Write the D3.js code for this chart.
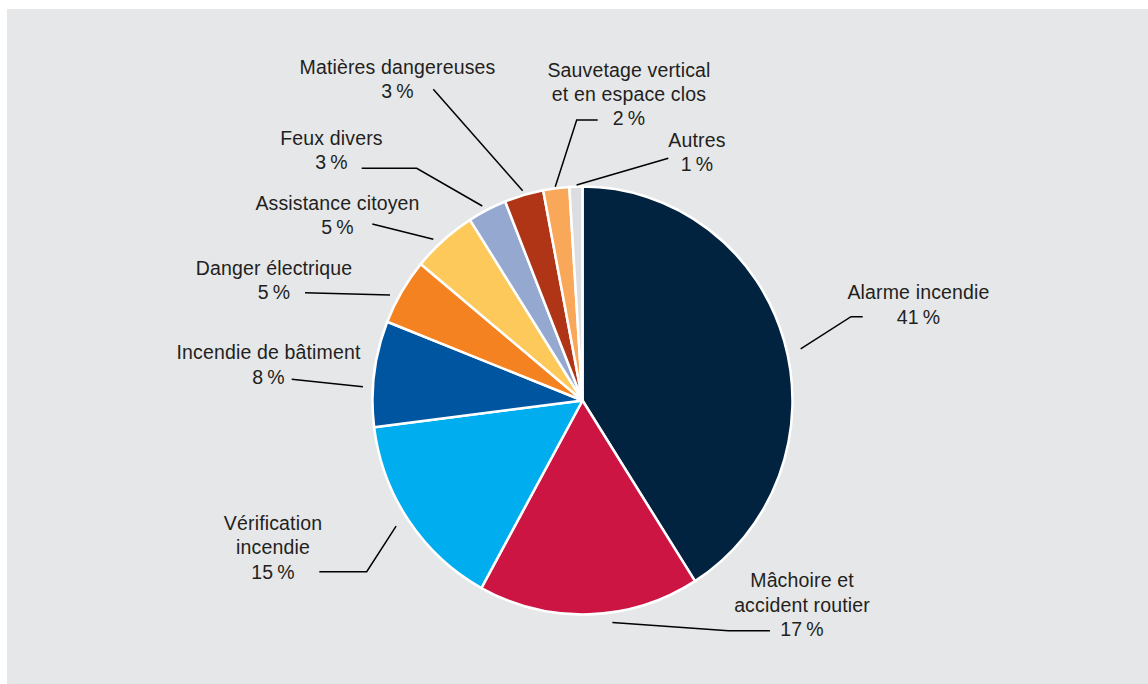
<!DOCTYPE html>
<html>
<head>
<meta charset="utf-8">
<script src="https://d3js.org/d3.v7.min.js"></script>
<style>
  body { margin: 0; background: #fff; }
  text { font-family: "Liberation Sans", Arial, Helvetica, sans-serif; fill: #231f20; }
</style>
</head>
<body>
<script>
// data
let categories = [
    "Alarme incendie",
    "Mâchoire et\naccident routier",
    "Vérification\nincendie",
    "Incendie de bâtiment",
    "Danger électrique",
    "Assistance citoyen",
    "Feux divers",
    "Matières dangereuses",
    "Sauvetage vertical\net en espace clos",
    "Autres"
];
let values = [41, 17, 15, 8, 5, 5, 3, 3, 2, 1];
let colors = ["#012340", "#cc1543", "#00aeef", "#0055a0", "#f58220",
              "#fec95b", "#94a8d0", "#b03516", "#f9a85a", "#dcdde0"];

// label layout: text centre, first baseline, angle nudge (deg), gap off the rim,
// optional elbow and where the leader stops next to the text
let labelLayout = [
    {x: 918.5, y: 299.3, nudge: 3.1,  gap: 14,  elbow: [851, 316.7],   end: [862.7, 316.7]},
    {x: 802,   y: 587.3, nudge: -6.0, gap: 10,  elbow: [728.3, 630.7], end: [770, 630.7]},
    {x: 273,   y: 530,   nudge: 0.7,  gap: 13.5, elbow: [366.7, 571.7], end: [319.3, 571.7]},
    {x: 268.5, y: 359.3, nudge: -3.7, gap: 10,  elbow: null,           end: [291.7, 379.3]},
    {x: 274,   y: 275,   nudge: -2.3, gap: 8.6, elbow: null,           end: [305, 292.7]},
    {x: 337.5, y: 210,   nudge: -1.9, gap: 7.5, elbow: null,           end: [372.3, 224]},
    {x: 331.5, y: 145,   nudge: -0.7, gap: 5.6, elbow: [416.7, 168.3], end: [361.7, 168.3]},
    {x: 397.5, y: 74,    nudge: 0,    gap: 4.4, elbow: null,           end: [433.3, 89.3]},
    {x: 629,   y: 76.7,  nudge: -0.2, gap: 1.6, elbow: [576.7, 120],   end: [597.7, 120]},
    {x: 697,   y: 146.7, nudge: 0.2,  gap: 1.6, elbow: null,           end: [668.3, 158.3]}
];

let width = 1148, height = 684;
let cx = 582.5, cy = 400.5, radius = 210, sy = 1.019;
let lineHeight = 24.3;

let svg = d3.select("body")
    .append("svg")
        .attr("width", width)
        .attr("height", height);

// grey panel
svg.append("rect")
    .attr("x", 7)
    .attr("y", 9)
    .attr("width", width - 7)
    .attr("height", height - 9)
    .attr("fill", "#e6e7e9");

let pie = d3.pie()
    .sort(null)
    .value(d => d);

let arcs = pie(values);

let arc = d3.arc()
    .innerRadius(0)
    .outerRadius(radius);

let pieG = svg.append("g")
    .attr("transform", `translate(${cx}, ${cy}) scale(1, ${sy})`);

pieG.selectAll("path.slice")
    .data(arcs)
    .enter()
        .append("path")
        .attr("class", "slice")
        .attr("d", arc)
        .attr("fill", (d, i) => colors[i])
        .attr("stroke", "#fff")
        .attr("stroke-width", 2.5)
        .attr("stroke-linejoin", "round");

// leader lines
let line = d3.line();
svg.selectAll("path.leader")
    .data(arcs)
    .enter()
        .append("path")
        .attr("class", "leader")
        .attr("fill", "none")
        .attr("stroke", "#000")
        .attr("stroke-width", 1.5)
        .attr("d", (d, i) => {
            let L = labelLayout[i];
            let a = (d.startAngle + d.endAngle) / 2 + L.nudge * Math.PI / 180;
            let r = radius + L.gap;
            let start = [cx + r * Math.sin(a), cy - r * Math.cos(a) * sy];
            let pts = [start];
            if (L.elbow) pts.push(L.elbow);
            pts.push(L.end);
            return line(pts);
        });

// labels
let labels = svg.selectAll("text.label")
    .data(arcs)
    .enter()
        .append("text")
        .attr("class", "label")
        .attr("text-anchor", "middle")
        .style("font-size", "19.5px")
        .style("letter-spacing", "0.15px");

labels.each(function(d, i) {
    let L = labelLayout[i];
    let rows = categories[i].split("\n");
    rows.push(`${values[i]}\u2009%`);
    d3.select(this).selectAll("tspan")
        .data(rows)
        .enter()
            .append("tspan")
            .attr("x", L.x)
            .attr("y", (t, j) => L.y + j * lineHeight)
            .text(t => t);
});
</script>
</body>
</html>
